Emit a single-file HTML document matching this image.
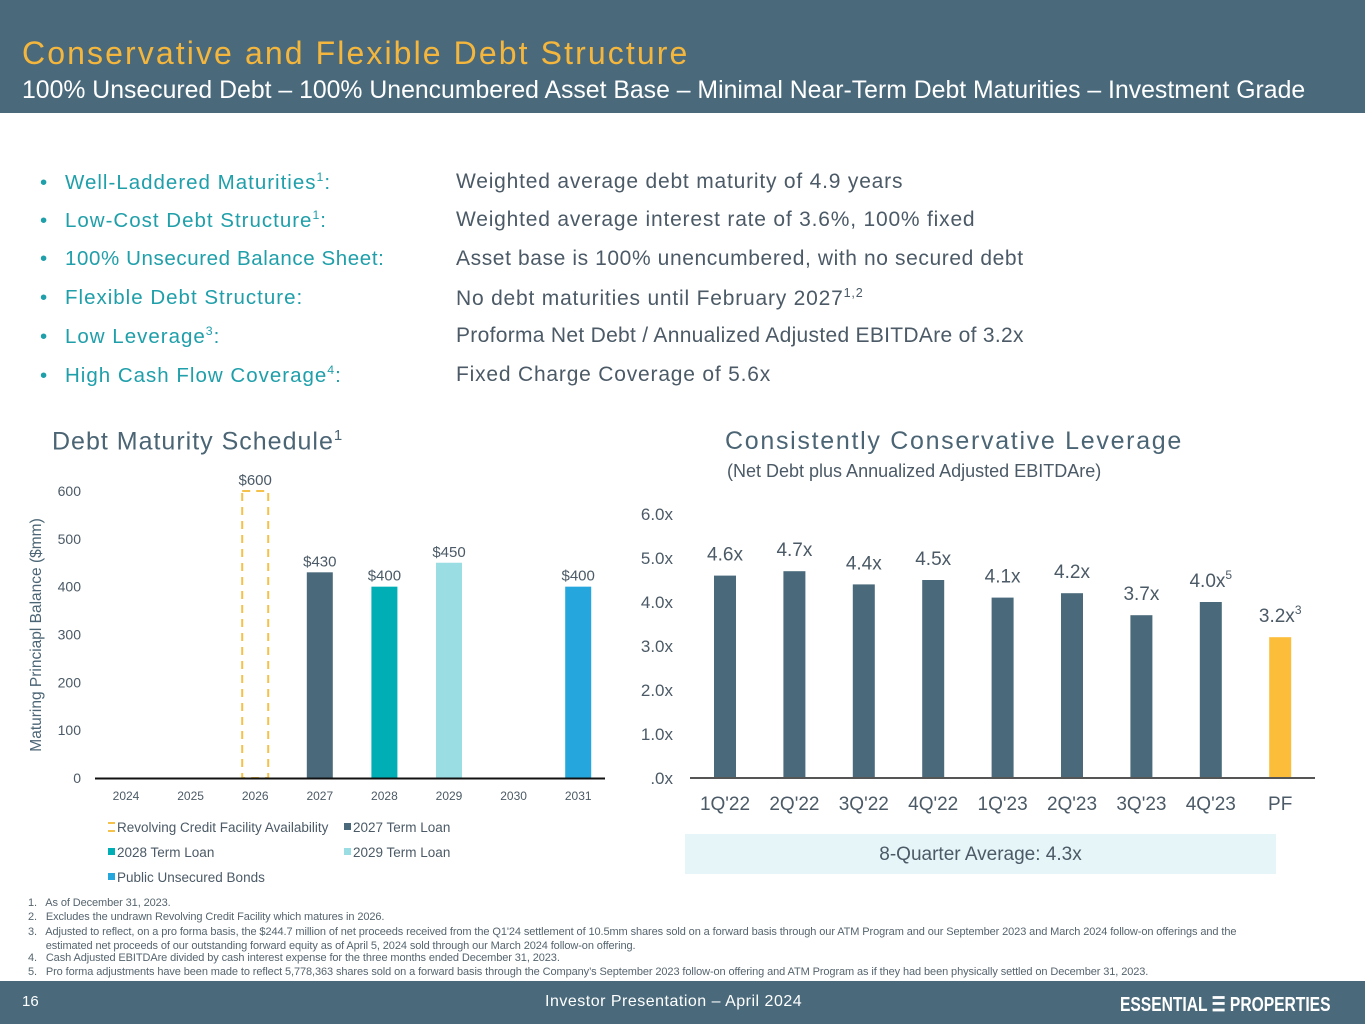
<!DOCTYPE html>
<html><head><meta charset="utf-8">
<style>
body{margin:0;width:1365px;height:1024px;position:relative;overflow:hidden;background:#fff;font-family:"Liberation Sans",sans-serif;}
.abs{position:absolute;white-space:nowrap;}
#hdr{left:0;top:0;width:1365px;height:113px;background:#4a6a7c;}
#title{left:22px;top:35px;font-size:32px;color:#f4b63c;letter-spacing:2.1px;}
#sub{left:22px;top:77px;font-size:24.8px;color:#fff;}
.bl{font-size:20.5px;color:#1f9faa;left:40px;letter-spacing:1px;}
.bl b{font-weight:normal;display:inline-block;width:25px;}
.br{font-size:21px;color:#4b5a66;left:456px;letter-spacing:0.8px;}
sup{font-size:60%;}
#ftr{left:0;top:981px;width:1365px;height:43px;background:#4a6a7c;color:#fff;}
.fn{left:28px;font-size:11px;color:#55646e;letter-spacing:-0.1px;}
</style></head><body>
<div id="hdr" class="abs"></div>
<div id="title" class="abs">Conservative and Flexible Debt Structure</div>
<div id="sub" class="abs">100% Unsecured Debt – 100% Unencumbered Asset Base – Minimal Near-Term Debt Maturities – Investment Grade</div>

<div class="abs bl" style="top:170px"><b>•</b>Well-Laddered Maturities<sup>1</sup>:</div>
<div class="abs br" style="top:170px">Weighted average debt maturity of 4.9 years</div>
<div class="abs bl" style="top:208px"><b>•</b>Low-Cost Debt Structure<sup>1</sup>:</div>
<div class="abs br" style="top:208px">Weighted average interest rate of 3.6%, 100% fixed</div>
<div class="abs bl" style="top:247px;letter-spacing:0.6px"><b>•</b>100% Unsecured Balance Sheet:</div>
<div class="abs br" style="top:247px;letter-spacing:0.6px">Asset base is 100% unencumbered, with no secured debt</div>
<div class="abs bl" style="top:286px"><b>•</b>Flexible Debt Structure:</div>
<div class="abs br" style="top:286px">No debt maturities until February 2027<sup>1,2</sup></div>
<div class="abs bl" style="top:324px"><b>•</b>Low Leverage<sup>3</sup>:</div>
<div class="abs br" style="top:324px;letter-spacing:0.3px">Proforma Net Debt / Annualized Adjusted EBITDAre of 3.2x</div>
<div class="abs bl" style="top:363px"><b>•</b>High Cash Flow Coverage<sup>4</sup>:</div>
<div class="abs br" style="top:363px">Fixed Charge Coverage of 5.6x</div>

<div class="abs" style="left:52px;top:427px;font-size:25px;color:#4b6575;letter-spacing:1px">Debt Maturity Schedule<sup>1</sup></div>
<div class="abs" style="left:725px;top:427px;font-size:25px;color:#4b6575;letter-spacing:1.7px">Consistently Conservative Leverage</div>
<div class="abs" style="left:727px;top:461px;font-size:18px;color:#4b5a66">(Net Debt plus Annualized Adjusted EBITDAre)</div>

<svg class="abs" style="left:0;top:0" width="1365" height="1024" id="charts"></svg>

<div class="abs" style="left:685px;top:834px;width:591px;height:40px;background:#e6f5f7;text-align:center;line-height:42px;font-size:19px;color:#4b5a66">8-Quarter Average: 4.3x</div>

<div class="abs fn" style="top:897px">1.&nbsp;&nbsp; As of December 31, 2023.</div>
<div class="abs fn" style="top:911px">2.&nbsp;&nbsp; Excludes the undrawn Revolving Credit Facility which matures in 2026.</div>
<div class="abs fn" style="top:925px;line-height:14px">3.&nbsp;&nbsp; Adjusted to reflect, on a pro forma basis, the $244.7 million of net proceeds received from the Q1'24 settlement of 10.5mm shares sold on a forward basis through our ATM Program and our September 2023 and March 2024 follow-on offerings and the<br>&nbsp;&nbsp;&nbsp;&nbsp;&nbsp; estimated net proceeds of our outstanding forward equity as of April 5, 2024 sold through our March 2024 follow-on offering.</div>
<div class="abs fn" style="top:952px">4.&nbsp;&nbsp; Cash Adjusted EBITDAre divided by cash interest expense for the three months ended December 31, 2023.</div>
<div class="abs fn" style="top:966px">5.&nbsp;&nbsp; Pro forma adjustments have been made to reflect 5,778,363 shares sold on a forward basis through the Company’s September 2023 follow-on offering and ATM Program as if they had been physically settled on December 31, 2023.</div>

<div id="ftr" class="abs">
<div class="abs" style="left:22px;top:12px;font-size:15px">16</div>
<div class="abs" style="left:545px;top:12px;font-size:16px;letter-spacing:0.5px">Investor Presentation – April 2024</div>
<div class="abs" style="left:1120px;top:11px;font-size:20px;font-weight:bold;transform:scaleX(0.78);transform-origin:left">ESSENTIAL ☰ PROPERTIES</div>
</div>

<script>
const debtYears=["2024","2025","2026","2027","2028","2029","2030","2031"];
const debtValues=[0,0,600,430,400,450,0,400];
const debtLabels=["","","$600","$430","$400","$450","","$400"];
const debtColors=["","","revolver","#4a6a7c","#00afb5","#9adde3","","#25a6dd"];
const debtTicks=[0,100,200,300,400,500,600];
const levCats=["1Q'22","2Q'22","3Q'22","4Q'22","1Q'23","2Q'23","3Q'23","4Q'23","PF"];
const levValues=[4.6,4.7,4.4,4.5,4.1,4.2,3.7,4.0,3.2];
const levLabels=["4.6x","4.7x","4.4x","4.5x","4.1x","4.2x","3.7x","4.0x","3.2x"];
const levSups=["","","","","","","","5","3"];
const levTicks=[0,1,2,3,4,5,6];
const levTickLabels=[".0x","1.0x","2.0x","3.0x","4.0x","5.0x","6.0x"];
const legendNames=["Revolving Credit Facility Availability","2027 Term Loan","2028 Term Loan","2029 Term Loan","Public Unsecured Bonds"];

const NS="http://www.w3.org/2000/svg";
const svg=document.getElementById('charts');
function mk(t,a,txt){const e=document.createElementNS(NS,t);for(const k in a)e.setAttribute(k,a[k]);if(txt!==undefined)e.textContent=txt;svg.appendChild(e);return e;}
const F='"Liberation Sans",sans-serif';

// Debt chart
const dY=v=>778-v*(287/600);
const dX=i=>126+i*64.6;
debtTicks.forEach(t=>{const e=mk('text',{x:81,y:dY(t)+5,'text-anchor':'end','font-size':14,fill:'#4b5a66','font-family':F},t);

});
const yt=mk('text',{x:0,y:0,transform:'translate(41,635) rotate(-90)','text-anchor':'middle','font-size':15.5,fill:'#4b6575','font-family':F},'Maturing Princiapl Balance ($mm)');


debtValues.forEach((v,i)=>{
 const x=dX(i);
 if(v>0){
  let r;
  if(debtColors[i]==='revolver'){r=mk('rect',{x:x-13,y:dY(v),width:26,height:dY(0)-dY(v),fill:'none',stroke:'#f4c24a','stroke-width':2,'stroke-dasharray':'8,6'});}
  else r=mk('rect',{x:x-13,y:dY(v),width:26,height:dY(0)-dY(v),fill:debtColors[i]});
  
  
  const l=mk('text',{x:x,y:dY(v)-6,'text-anchor':'middle','font-size':15,fill:'#4b5a66','font-family':F},debtLabels[i]);
  
  
 }
 const c=mk('text',{x:x,y:800,'text-anchor':'middle','font-size':12,fill:'#4b5a66','font-family':F},debtYears[i]);
 
 
});
const da=mk('line',{x1:95,x2:605,y1:778.5,y2:778.5,stroke:'#111','stroke-width':2});


const legPos=[[108,832],[344,832],[108,857],[344,857],[108,882]];
const legCol=['#f4c24a','#4a6a7c','#00afb5','#9adde3','#25a6dd'];
legendNames.forEach((n,i)=>{
 const [x,y]=legPos[i];
 let s;
 if(i===0){s=mk('path',{d:`M${x} ${y-9}h7M${x} ${y-1}h7`,stroke:legCol[0],'stroke-width':2});}
 else s=mk('rect',{x:x,y:y-9,width:7,height:7,fill:legCol[i]});
 
 
 const t=mk('text',{x:x+9,y:y,'font-size':13.5,fill:'#4b5a66','font-family':F},n);
 
 
});

// Leverage chart
const lY=v=>778-v*44;
const lX=i=>725+i*69.4;
levTicks.forEach((t,i)=>{const e=mk('text',{x:673,y:lY(t)+6,'text-anchor':'end','font-size':17,fill:'#4b5a66','font-family':F},levTickLabels[i]);

});
levValues.forEach((v,i)=>{
 const x=lX(i);
 const r=mk('rect',{x:x-11,y:lY(v),width:22,height:lY(0)-lY(v),fill:i===8?'#fbbd3a':'#4a6a7c'});
 
 
 const l=mk('text',{x:x,y:lY(v)-15,'text-anchor':'middle','font-size':19,fill:'#4b5a66','font-family':F},levLabels[i]);
 
 
 if(levSups[i]){const s=document.createElementNS(NS,'tspan');s.setAttribute('font-size',12);s.setAttribute('dy',-8);s.textContent=levSups[i];l.appendChild(s);}
 const c=mk('text',{x:x,y:810,'text-anchor':'middle','font-size':19,fill:'#4b5a66','font-family':F},levCats[i]);
 
 
});
const la=mk('line',{x1:690,x2:1315,y1:778,y2:778,stroke:'#555','stroke-width':2});


</script>
</body></html>
